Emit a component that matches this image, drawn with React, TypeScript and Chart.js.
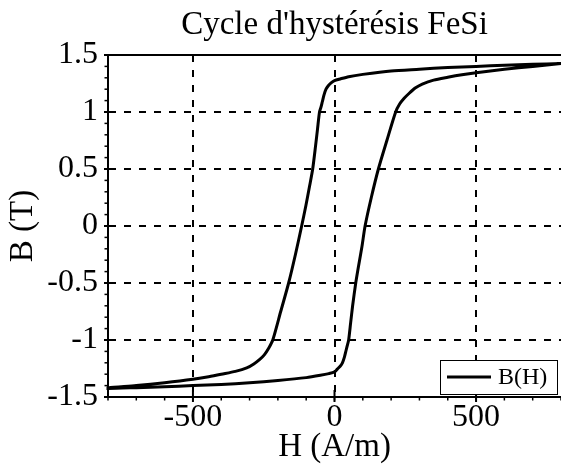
import React, { useEffect, useRef } from "react";
import { Chart, registerables } from "chart.js";

Chart.register(...registerables);

const TITLE = "Cycle d'hystérésis FeSi";
const X_LABEL = "H (A/m)";
const Y_LABEL = "B (T)";
const SERIES_LABEL = "B(H)";

// Descending branch (H from +800 to -800)
const H_DESC = [800, 700, 600, 500, 400, 300, 200, 100, 50, 20, 0, -12, -22, -30, -37, -43, -48, -53, -60, -67, -77, -88, -101, -116, -138, -162, -190, -218, -232, -248, -264, -285, -310, -350, -400, -450, -500, -600, -700, -800];
const B_DESC = [1.425, 1.418, 1.41, 1.4, 1.39, 1.375, 1.36, 1.33, 1.31, 1.29, 1.275, 1.255, 1.23, 1.2, 1.15, 1.09, 1.04, 1.0, 0.85, 0.7, 0.5, 0.35, 0.18, 0.0, -0.25, -0.5, -0.75, -1.0, -1.07, -1.13, -1.17, -1.21, -1.245, -1.275, -1.3, -1.325, -1.345, -1.375, -1.4, -1.42];

// Ascending branch (H from -800 to +800)
const H_ASC = [-800, -700, -600, -500, -400, -300, -200, -100, -50, -20, 0, 10, 20, 28, 35, 41, 46, 50, 57, 64, 75, 85, 97, 108, 130, 155, 185, 216, 230, 246, 262, 285, 310, 350, 400, 450, 500, 600, 700, 800];
const B_ASC = [-1.425, -1.418, -1.41, -1.4, -1.39, -1.375, -1.355, -1.33, -1.31, -1.295, -1.28, -1.255, -1.23, -1.2, -1.15, -1.09, -1.04, -1.0, -0.85, -0.7, -0.5, -0.35, -0.18, 0.0, 0.25, 0.5, 0.75, 1.0, 1.07, 1.12, 1.16, 1.21, 1.245, 1.28, 1.305, 1.327, 1.345, 1.375, 1.4, 1.425];

const X_MIN = -800;
const X_MAX = 800;
const Y_MIN = -1.5;
const Y_MAX = 1.5;
const X_TICKS = [-500, 0, 500];
const Y_TICKS = [-1.5, -1, -0.5, 0, 0.5, 1, 1.5];
const X_MINOR_STEP = 100;
const Y_MINOR_STEP = 0.1;

const FONT = "'Liberation Serif', 'Times New Roman', Times, serif";

const framePlugin = {
  id: "frameAndLegend",
  afterDraw(chart: any) {
    const { ctx, chartArea: a, scales } = chart;
    const x = scales.x;
    const y = scales.y;
    const seg = (x1: number, y1: number, x2: number, y2: number) => {
      ctx.beginPath();
      ctx.moveTo(x1, y1);
      ctx.lineTo(x2, y2);
      ctx.stroke();
    };
    ctx.save();
    ctx.strokeStyle = "#000";
    ctx.setLineDash([]);
    // top frame line
    ctx.lineWidth = 2;
    seg(a.left, a.top, a.right, a.top);
    // minor ticks
    ctx.lineWidth = 1.5;
    for (let v = X_MIN; v <= X_MAX + 1e-9; v += X_MINOR_STEP) {
      const px = x.getPixelForValue(v);
      seg(px, a.bottom, px, a.bottom + 3.5);
    }
    const nY = Math.round((Y_MAX - Y_MIN) / Y_MINOR_STEP);
    for (let i = 0; i <= nY; i++) {
      const py = y.getPixelForValue(Y_MIN + i * Y_MINOR_STEP);
      seg(a.left - 3.5, py, a.left, py);
    }
    // major ticks
    ctx.lineWidth = 2;
    for (const v of X_TICKS) {
      const px = x.getPixelForValue(v);
      seg(px, a.bottom - 7, px, a.bottom + 5);
    }
    for (const v of Y_TICKS) {
      const py = y.getPixelForValue(v);
      seg(a.left - 4, py, a.left + 8, py);
    }
    // legend box
    const w = 117;
    const h = 34;
    const bx = a.right - 4 - w;
    const by = a.bottom - 3 - h;
    ctx.fillStyle = "#fff";
    ctx.fillRect(bx, by, w, h);
    ctx.lineWidth = 1;
    ctx.strokeRect(Math.round(bx) + 0.5, Math.round(by) + 0.5, w, h);
    ctx.lineWidth = 3;
    seg(bx + 7, by + h / 2, bx + 51, by + h / 2);
    ctx.fillStyle = "#000";
    ctx.font = `24px ${FONT}`;
    ctx.textBaseline = "middle";
    ctx.textAlign = "left";
    ctx.fillText(SERIES_LABEL, bx + 58, by + h / 2 + 1);
    ctx.restore();
  },
};

export default function App() {
  const ref = useRef<HTMLCanvasElement | null>(null);

  useEffect(() => {
    if (!ref.current) return;
    const points = [
      ...H_DESC.map((h, i) => ({ x: h, y: B_DESC[i] })),
      ...H_ASC.map((h, i) => ({ x: h, y: B_ASC[i] })),
    ];
    const tickFont = { family: FONT, size: 32, weight: "normal" as const, lineHeight: 1.2 };
    const titleFont = { family: FONT, size: 33, weight: "normal" as const, lineHeight: 1.2 };
    const chart = new Chart(ref.current, {
      type: "scatter",
      data: {
        datasets: [
          {
            label: SERIES_LABEL,
            data: points,
            showLine: true,
            borderColor: "#000",
            backgroundColor: "#000",
            borderWidth: 3,
            pointRadius: 0,
            tension: 0.25,
            clip: false as any,
          },
        ],
      },
      options: {
        animation: false,
        responsive: false,
        devicePixelRatio: 1,
        layout: { padding: 0 },
        plugins: {
          legend: { display: false },
          tooltip: { enabled: false },
          title: {
            display: true,
            text: TITLE,
            fullSize: false,
            color: "#000",
            font: titleFont,
            padding: { top: 6, bottom: 9.4 },
          },
        },
        scales: {
          x: {
            type: "linear",
            min: X_MIN,
            max: X_MAX,
            afterBuildTicks: (s: any) => {
              s.ticks = X_TICKS.map((v) => ({ value: v }));
            },
            afterFit: (s: any) => {
              s.height = 70;
            },
            ticks: { color: "#000", font: tickFont, padding: 1, maxRotation: 0, callback: (v: any) => String(v) },
            grid: { color: "#000", lineWidth: 2, drawTicks: false },
            border: { display: true, color: "#000", width: 2, dash: [7, 8] },
            title: { display: true, text: X_LABEL, color: "#000", font: titleFont, padding: { top: 0, bottom: 0 } },
          },
          y: {
            type: "linear",
            min: Y_MIN,
            max: Y_MAX,
            afterBuildTicks: (s: any) => {
              s.ticks = Y_TICKS.map((v) => ({ value: v }));
            },
            afterFit: (s: any) => {
              s.width = 108;
            },
            ticks: { color: "#000", font: tickFont, padding: 10, callback: (v: any) => String(v) },
            grid: { color: "#000", lineWidth: 2, drawTicks: false },
            border: { display: true, color: "#000", width: 2, dash: [7, 8] },
            title: { display: true, text: Y_LABEL, color: "#000", font: titleFont, padding: { top: 4, bottom: 0 } },
          },
        },
      },
      plugins: [framePlugin],
    });
    return () => chart.destroy();
  }, []);

  return (
    <div style={{ position: "absolute", left: 0, top: 0, width: 561, height: 467, background: "#fff" }}>
      <canvas ref={ref} width={561} height={467} />
    </div>
  );
}
